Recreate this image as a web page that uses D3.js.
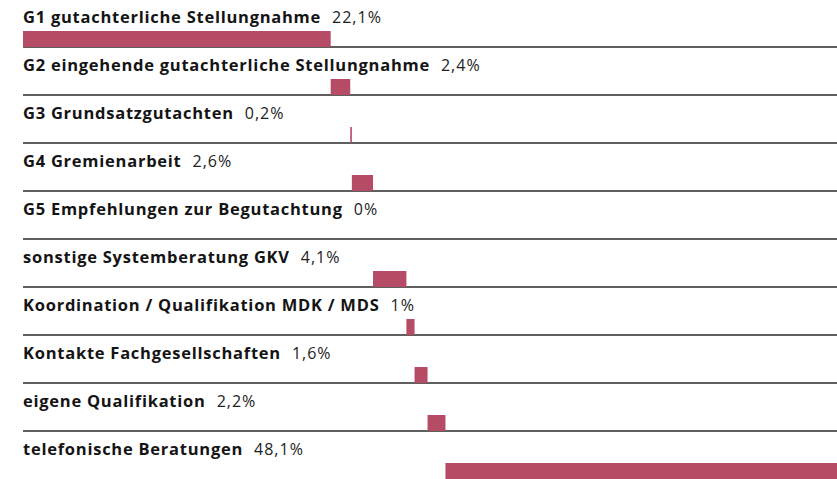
<!DOCTYPE html>
<html>
<head>
<meta charset="utf-8">
<script src="https://cdn.jsdelivr.net/npm/d3@7"></script>
<style>
  body { margin: 0; background: #fff; }
  svg { display: block; }
  .lbl { font-family: "Open Sans", sans-serif; font-weight: 700; font-size: 16.5px; fill: #141414; letter-spacing: 0.75px; }
  .val { font-family: "Open Sans", sans-serif; font-weight: 400; font-size: 16px; fill: #222; letter-spacing: 1px; }
</style>
</head>
<body>
<div id="chart"></div>
<script>
// Kategorien, von oben nach unten
var categories = [
  "G1 gutachterliche Stellungnahme",
  "G2 eingehende gutachterliche Stellungnahme",
  "G3 Grundsatzgutachten",
  "G4 Gremienarbeit",
  "G5 Empfehlungen zur Begutachtung",
  "sonstige Systemberatung GKV",
  "Koordination / Qualifikation MDK / MDS",
  "Kontakte Fachgesellschaften",
  "eigene Qualifikation",
  "telefonische Beratungen"
];

// Beschriftung (so wie im Original gedruckt)
var valueLabels = ["22,1%", "2,4%", "0,2%", "2,6%", "0%", "4,1%", "1%", "1,6%", "2,2%", "48,1%"];

// Balkenlaengen in % (G1-Balken ist breiter als 22,1)
var values = [37.8, 2.4, 0.2, 2.6, 0, 4.1, 1, 1.6, 2.2, 48.1];

var W = 837, H = 479;
var left = 23, right = 837;
var rowH = 48, firstLine = 47, barH = 16;

var x = d3.scaleLinear().domain([0, 100]).range([left, right]);

// kumulierte Startwerte (Wasserfall)
var starts = [];
var acc = 0;
values.forEach(function(v) { starts.push(acc); acc += v; });

var svg = d3.select("#chart").append("svg")
  .attr("width", W)
  .attr("height", H);

var rows = svg.selectAll("g.row")
  .data(categories)
  .enter()
  .append("g")
  .attr("class", "row")
  .attr("transform", function(d, i) { return "translate(0," + (firstLine + i * rowH) + ")"; });

// Trennlinien (nicht unter der letzten Zeile)
rows.filter(function(d, i) { return i < categories.length - 1; })
  .append("line")
  .attr("x1", left)
  .attr("x2", right)
  .attr("y1", 0)
  .attr("y2", 0)
  .attr("stroke", "#2a2a2a")
  .attr("stroke-width", 1.3);

rows.append("rect")
  .attr("x", function(d, i) { return x(starts[i]); })
  .attr("y", -barH)
  .attr("width", function(d, i) { return x(starts[i] + values[i]) - x(starts[i]); })
  .attr("height", barH)
  .attr("fill", "#b64b66");

var lbl = rows.append("text")
  .attr("class", "lbl")
  .attr("x", left)
  .attr("y", -24.5)
  .text(function(d) { return d; });

rows.append("text")
  .attr("class", "val")
  .attr("y", -24.5)
  .attr("x", function(d, i) { return left + lbl.nodes()[i].getComputedTextLength() + 11; })
  .text(function(d, i) { return valueLabels[i]; });
</script>
</body>
</html>
